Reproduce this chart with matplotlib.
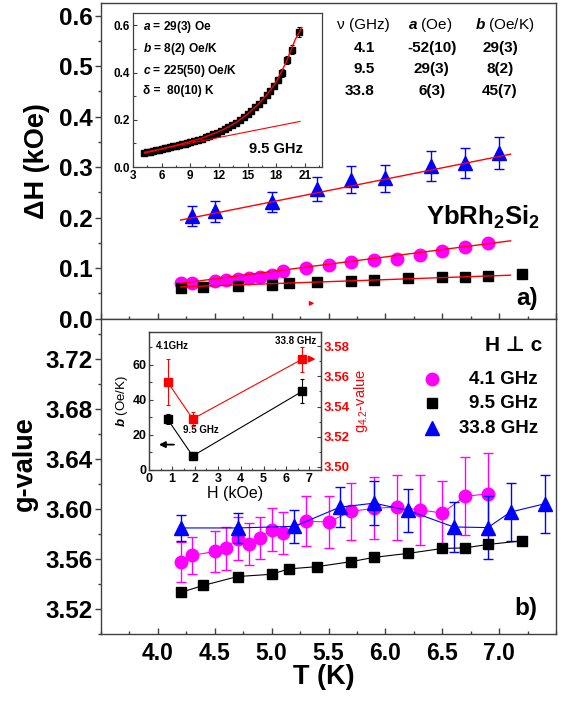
import numpy as np
import matplotlib
matplotlib.use('Agg')
import matplotlib.pyplot as plt
from matplotlib.ticker import MultipleLocator

plt.rcParams['font.family'] = ['Liberation Sans', 'DejaVu Sans']
plt.rcParams['font.weight'] = 'bold'
plt.rcParams['mathtext.fontset'] = 'custom'
plt.rcParams['mathtext.default'] = 'regular'
plt.rcParams['mathtext.it'] = 'Liberation Sans:italic:bold'
plt.rcParams['mathtext.rm'] = 'Liberation Sans:bold'
plt.rcParams['mathtext.bf'] = 'Liberation Sans:bold'

MAG = '#FF00FF'
BLU = '#0000FF'
RED = '#FF0000'
SPINE = '#404040'

# 4.1 GHz (lingkaran magenta)
T_41 = [4.2, 4.3, 4.5, 4.6, 4.7, 4.8, 4.9, 5.0, 5.1, 5.3, 5.5, 5.7, 5.9, 6.1, 6.3, 6.5, 6.7, 6.9]
dH_41 = [0.070, 0.071, 0.075, 0.077, 0.079, 0.080, 0.083, 0.086, 0.094, 0.100, 0.105,
         0.111, 0.115, 0.118, 0.126, 0.134, 0.141, 0.149]
g_41 = [3.5575, 3.5628, 3.5659, 3.5683, 3.5762, 3.5718, 3.5768, 3.5834, 3.5807, 3.5900,
        3.5895, 3.5979, 3.6005, 3.6013, 3.5992, 3.5966, 3.6100, 3.6119]
gerr_41 = [0.016, 0.015, 0.016, 0.017, 0.017, 0.017, 0.017, 0.017, 0.017, 0.020, 0.021,
           0.023, 0.025, 0.026, 0.028, 0.026, 0.031, 0.033]

# 9.5 GHz (kotak hitam)
T_95 = [4.2, 4.4, 4.7, 5.0, 5.15, 5.4, 5.7, 5.9, 6.2, 6.5, 6.7, 6.9, 7.2]
dH_95 = [0.060, 0.063, 0.064, 0.066, 0.070, 0.072, 0.075, 0.077, 0.080, 0.082, 0.083, 0.085, 0.088]
g_95 = [3.5332, 3.5388, 3.5459, 3.5477, 3.5520, 3.5538, 3.5578, 3.5612, 3.5644, 3.5683,
        3.5688, 3.5715, 3.5744]
gerr_95 = [0.0025, 0.0025, 0.0025, 0.0025, 0.0025, 0.0025, 0.0025, 0.0025, 0.0025, 0.003,
           0.003, 0.003, 0.003]

# 33.8 GHz (segitiga biru)
T_338_dH = [4.3, 4.5, 5.0, 5.4, 5.7, 6.0, 6.4, 6.7, 7.0]
dH_338 = [0.203, 0.212, 0.230, 0.257, 0.275, 0.278, 0.302, 0.308, 0.328]
dHerr_338 = [0.020, 0.020, 0.020, 0.024, 0.027, 0.027, 0.030, 0.030, 0.032]
T_338_g = [4.2, 4.7, 5.2, 5.6, 5.9, 6.2, 6.6, 6.9, 7.1, 7.4]
g_338 = [3.5847, 3.5847, 3.5860, 3.6013, 3.6045, 3.5987, 3.5855, 3.5850, 3.5974, 3.6040]
gerr_338 = [0.0106, 0.012, 0.013, 0.016, 0.0175, 0.017, 0.020, 0.025, 0.023, 0.023]

# parameter fit linear dH = a + b*T
freq_txt = ['4.1', '9.5', '33.8']
fit_a = [-52, 29, 6]        # Oe
fit_b = [29, 8, 45]         # Oe/K
fit_a_txt = ['-52(10)', '29(3)', '6(3)']
fit_b_txt = ['29(3)', '8(2)', '45(7)']
fit_T = [4.2, 7.1]

# inset atas: 9.5 GHz sampai 20 K
ins_T = [4.2, 4.5, 4.8, 5.1, 5.4, 5.7, 6.0, 6.3, 6.6, 6.9, 7.2, 7.5, 7.8, 8.1, 8.4, 8.7, 9.0,
         9.4, 9.8, 10.2, 10.6, 11.0, 11.4, 11.8, 12.2, 12.6, 13.0, 13.4, 13.8, 14.2, 14.6,
         15.0, 15.4, 15.8, 16.2, 16.6, 17.0, 17.4, 17.8, 18.2, 18.6, 19.1, 19.7, 20.4]
ins_dH = [0.060, 0.062, 0.065, 0.067, 0.070, 0.073, 0.076, 0.079, 0.081, 0.084, 0.087,
          0.090, 0.093, 0.096, 0.099, 0.102, 0.106, 0.110, 0.115, 0.120, 0.126, 0.132,
          0.138, 0.145, 0.152, 0.160, 0.168, 0.177, 0.187, 0.198, 0.210, 0.223, 0.237,
          0.252, 0.268, 0.285, 0.303, 0.323, 0.345, 0.368, 0.398, 0.452, 0.497, 0.572]
ins_err = [0.003, 0.003, 0.003, 0.003, 0.003, 0.003, 0.003, 0.003, 0.003, 0.003, 0.003,
           0.003, 0.003, 0.003, 0.003, 0.003, 0.004, 0.004, 0.004, 0.004, 0.004, 0.004,
           0.005, 0.005, 0.005, 0.005, 0.005, 0.006, 0.006, 0.006, 0.007, 0.007, 0.008,
           0.008, 0.009, 0.010, 0.010, 0.011, 0.012, 0.014, 0.016, 0.018, 0.020, 0.020]
ins_fit_T = [4.2, 6.0, 8.0, 10.0, 12.0, 13.0, 14.0, 15.0, 16.0, 17.0, 18.0, 19.0, 20.0, 20.7]
ins_fit_dH = [0.059, 0.076, 0.097, 0.119, 0.150, 0.170, 0.194, 0.224, 0.261, 0.304, 0.360,
              0.440, 0.540, 0.590]
ins_lin_T = [4.2, 20.5]
ins_params = ['$\\mathit{a}$ = 29(3) Oe', '$\\mathit{b}$ = 8(2) Oe/K',
              '$\\mathit{c}$ = 225(50) Oe/K', '\u03b4 =  80(10) K']

# inset bawah: b dan g(4.2 K) vs medan resonansi
H_res = [0.8, 1.9, 6.7]
b_res = [29, 8, 45]
b_err = [3, 2, 7]
g42 = [3.5562, 3.5318, 3.5714]
g42_err = [0.0155, 0.0047, 0.0083]

fig = plt.figure(figsize=(5.63, 7.01), dpi=100)
L, R = 101 / 563, 556 / 563
ax1 = fig.add_axes([L, 1 - 318.5 / 701, R - L, 315.5 / 701])
ax2 = fig.add_axes([L, 1 - 634 / 701, R - L, 315.5 / 701])

for ax in (ax1, ax2):
    for s in ax.spines.values():
        s.set_color(SPINE)
        s.set_linewidth(1.0)
    ax.set_xlim(3.5, 7.5)
    ax.xaxis.set_major_locator(MultipleLocator(0.5))
    ax.xaxis.set_minor_locator(MultipleLocator(0.25))
    ax.tick_params(axis='x', which='both', direction='in', top=False, color=SPINE,
                   labelsize=16.5, pad=6)
    ax.tick_params(axis='y', which='both', direction='out', right=False, color=SPINE,
                   labelsize=17.5, pad=2)
    ax.tick_params(which='major', length=4, width=1)
    ax.tick_params(which='minor', length=2.5, width=1)

# ---- panel a ----
ax1.errorbar(T_338_dH, dH_338, yerr=dHerr_338, fmt='^', color=BLU, ms=10.5, mec=BLU,
             capsize=3.5, elinewidth=1, capthick=1, zorder=3)
ax1.plot(T_41, dH_41, 'o', color=MAG, ms=9, mec=MAG, zorder=3)
ax1.plot(T_95, dH_95, 's', color='black', ms=7.5, zorder=3)
for a, b in zip(fit_a, fit_b):
    ax1.plot(fit_T, [(a + b * t) / 1000 for t in fit_T], '-', color=RED, lw=1, zorder=4)
ax1.annotate('', xy=(5.40, 0.030), xytext=(5.31, 0.030),
             arrowprops=dict(arrowstyle='-|>', color=RED, lw=1, mutation_scale=6))
ax1.set_ylim(0, 0.625)
ax1.yaxis.set_major_locator(MultipleLocator(0.1))
ax1.yaxis.set_minor_locator(MultipleLocator(0.05))
ax1.tick_params(axis='x', labelbottom=False)
ax1.set_ylabel('\u0394H (kOe)', fontsize=19.5, fontweight='bold')
ax1.yaxis.set_label_coords(-0.112, 0.5)

hy = 0.930
ax1.text(0.577, hy, '\u03bd (GHz)', transform=ax1.transAxes, ha='center', va='center',
         fontsize=11, fontweight='normal')
ax1.text(0.723, hy, '$\\mathit{a}$ (Oe)', transform=ax1.transAxes, ha='center', va='center',
         fontsize=11, fontweight='normal')
ax1.text(0.888, hy, '$\\mathit{b}$ (Oe/K)', transform=ax1.transAxes, ha='center', va='center',
         fontsize=11, fontweight='normal')
for i, ry in enumerate([0.857, 0.791, 0.721]):
    ax1.text(0.602, ry, freq_txt[i], transform=ax1.transAxes, ha='right', va='center', fontsize=11)
    ax1.text(0.727, ry, fit_a_txt[i], transform=ax1.transAxes, ha='center', va='center', fontsize=11)
    ax1.text(0.877, ry, fit_b_txt[i], transform=ax1.transAxes, ha='center', va='center', fontsize=11)

ax1.text(0.965, 0.319, 'YbRh$_2$Si$_2$', transform=ax1.transAxes, ha='right', va='center',
         fontsize=18.5)
ax1.text(0.96, 0.062, 'a)', transform=ax1.transAxes, ha='right', va='center', fontsize=17.5)

# ---- panel b ----
ax2.errorbar(T_41, g_41, yerr=gerr_41, fmt='o-', color=MAG, ms=9, mec=MAG, lw=0.8,
             capsize=3.5, elinewidth=1, capthick=1, zorder=3)
ax2.errorbar(T_338_g, g_338, yerr=gerr_338, fmt='^-', color=BLU, ms=10.5, mec=BLU, lw=0.8,
             capsize=3.5, elinewidth=1, capthick=1, zorder=4)
ax2.errorbar(T_95, g_95, yerr=gerr_95, fmt='s-', color='black', ms=7.5, lw=0.8,
             capsize=3.5, elinewidth=1, capthick=1, zorder=5)
ax2.set_ylim(3.50, 3.752)
ax2.yaxis.set_major_locator(MultipleLocator(0.04))
ax2.yaxis.set_minor_locator(MultipleLocator(0.02))
ax2.yaxis.set_major_formatter(plt.FormatStrFormatter('%.2f'))
ax2.xaxis.set_major_formatter(plt.FormatStrFormatter('%.1f'))
ax2.set_xticks([4.0, 4.5, 5.0, 5.5, 6.0, 6.5, 7.0])
ax2.set_ylabel('g-value', fontsize=19.5, fontweight='bold')
ax2.yaxis.set_label_coords(-0.138, 0.54)
ax2.set_xlabel('T (K)', fontsize=19.5, fontweight='bold')
ax2.xaxis.set_label_coords(0.49, -0.095)

ax2.text(0.97, 0.915, 'H \u22a5 c', transform=ax2.transAxes, ha='right', va='center',
         fontsize=15)
leg = [('o', MAG, 9, '4.1 GHz'), ('s', 'black', 7.5, '9.5 GHz'), ('^', BLU, 10.5, '33.8 GHz')]
for (m, c, ms, lab), ly in zip(leg, [0.807, 0.731, 0.652]):
    ax2.plot([0.7275], [ly], m, color=c, mec=c, ms=ms, transform=ax2.transAxes, clip_on=False)
    ax2.text(0.96, ly, lab, transform=ax2.transAxes, ha='right', va='center', fontsize=13.5)
ax2.text(0.96, 0.082, 'b)', transform=ax2.transAxes, ha='right', va='center', fontsize=17.5)

# ---- inset atas ----
ins1 = fig.add_axes([133 / 563, 1 - 167 / 701, 189 / 563, 154 / 701])
ins1.errorbar(ins_T, ins_dH, yerr=ins_err, fmt='s', color='black', ms=4.4,
              capsize=1.5, elinewidth=0.8, capthick=0.8, zorder=3)
ins1.plot(ins_fit_T, ins_fit_dH, '-', color=RED, lw=1, zorder=4)
ins1.plot(ins_lin_T, [(29 + 8 * t) / 1000 for t in ins_lin_T], '-', color=RED, lw=0.8, zorder=4)
ins1.set_xlim(3, 22.8)
ins1.set_ylim(0, 0.652)
ins1.xaxis.set_major_locator(MultipleLocator(3))
ins1.xaxis.set_minor_locator(MultipleLocator(1.5))
ins1.yaxis.set_major_locator(MultipleLocator(0.2))
ins1.yaxis.set_minor_locator(MultipleLocator(0.1))
ins1.yaxis.set_major_formatter(plt.FormatStrFormatter('%.1f'))
for y0, s in zip([0.909, 0.766, 0.623, 0.494], ins_params):
    ins1.text(0.053, y0, s, transform=ins1.transAxes, ha='left', va='center', fontsize=8.6)
ins1.text(0.899, 0.117, '9.5 GHz', transform=ins1.transAxes, ha='right', va='center', fontsize=10.5)

# ---- inset bawah ----
ins2 = fig.add_axes([149.3 / 563, 1 - 470 / 701, 171.4 / 563, 138.3 / 701])
ins2.errorbar(H_res, b_res, yerr=b_err, fmt='s-', color='black', ms=5.2, lw=0.8,
              capsize=1.5, elinewidth=0.8, capthick=0.8)
ins2.set_xlim(0, 7.5)
ins2.set_ylim(0, 79)
ins2.xaxis.set_major_locator(MultipleLocator(1))
ins2.xaxis.set_minor_locator(MultipleLocator(0.5))
ins2.yaxis.set_major_locator(MultipleLocator(20))
ins2.yaxis.set_minor_locator(MultipleLocator(10))
ins2.set_xlabel('H (kOe)', fontsize=11.5, labelpad=1)
ins2.set_ylabel('$\\mathit{b}$ (Oe/K)', fontsize=9.5, labelpad=2)
ins2.text(0.99, 70.8, '4.1GHz', ha='center', va='center', fontsize=7)
ins2.text(6.42, 73.9, '33.8 GHz', ha='center', va='center', fontsize=7)
ins2.text(2.24, 22.8, '9.5 GHz', ha='center', va='center', fontsize=7)
ins2.annotate('', xy=(0.3, 14.5), xytext=(1.2, 14.5),
              arrowprops=dict(arrowstyle='-|>', color='black', lw=1.3, mutation_scale=9))
ins2b = ins2.twinx()
ins2b.errorbar(H_res, g42, yerr=g42_err, fmt='s-', color=RED, mec=RED, ms=5.2, lw=0.8,
               capsize=1.5, elinewidth=0.8, capthick=0.8)
ins2b.set_ylim(3.498, 3.5895)
ins2b.yaxis.set_major_locator(MultipleLocator(0.02))
ins2b.yaxis.set_minor_locator(MultipleLocator(0.01))
ins2b.yaxis.set_major_formatter(plt.FormatStrFormatter('%.2f'))
ins2b.set_ylabel('g$_{4.2}$-value', color=RED, fontsize=10.5, labelpad=2)
ins2b.annotate('', xy=(7.4, 3.5714), xytext=(6.9, 3.5714),
               arrowprops=dict(arrowstyle='-|>', color=RED, lw=1.3, mutation_scale=9))

for ax in (ins1, ins2, ins2b):
    for s in ax.spines.values():
        s.set_color(SPINE)
        s.set_linewidth(0.9)
    ax.tick_params(which='both', direction='in', width=0.8, color=SPINE, pad=2)
    ax.tick_params(which='major', length=3)
    ax.tick_params(which='minor', length=1.8)
ins1.tick_params(labelsize=8.5, top=False, right=False)
ins2.tick_params(labelsize=9, top=False, right=False)
ins2b.tick_params(axis='y', labelsize=9.5, labelcolor=RED, left=False)

fig.savefig('out.png', dpi=100)
